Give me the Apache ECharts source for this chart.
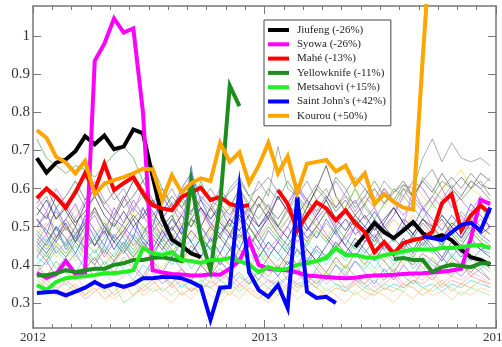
<!DOCTYPE html>
<html>
<head>
<meta charset="utf-8">
<script src="https://cdn.jsdelivr.net/npm/echarts@6.0.0/dist/echarts.min.js"></script>
<style>
  html, body { margin: 0; padding: 0; background: #fff; }
  #chart { width: 502px; height: 347px; }
</style>
</head>
<body>
<div id="chart"></div>
<script>
// half-monthly samples, 2012 - 2014
const t = Array.from({ length: 48 }, (_, i) => 2012 + (i + 0.4) / 24)
const yTicks = [0.3, 0.4, 0.5, 0.6, 0.7, 0.8, 0.9, 1]

const stations = ['Jiufeng (-26%)', 'Syowa (-26%)', 'Mahé (-13%)', 'Yellowknife (-11%)',
  'Metsahovi (+15%)', "Saint John's (+42%)", 'Kourou (+50%)']
const stationColors = ['#000000', '#ff00ff', '#ff0000', '#1e8c1e', '#22f022', '#0000ff', '#ffa500']

const jiufeng = [0.68, 0.642, 0.668, 0.676, 0.698, 0.737, 0.716, 0.739, 0.703, 0.71, 0.755, 0.745,
  0.632, 0.523, 0.466, 0.45, 0.43, 0.42, null, null, null, null, null, null, null, null, null, null,
  null, null, null, null, null, 0.447, 0.478, 0.51, 0.486, 0.47, 0.49, 0.512, 0.483, 0.47, 0.478,
  0.465, 0.44, 0.42, 0.413, 0.40]
const syowa = [0.378, 0.366, 0.376, 0.41, 0.376, 0.38, 0.935, 0.98, 1.046, 1.009, 1.02, 0.80,
  0.386, 0.38, 0.376, 0.375, 0.372, 0.372, 0.375, 0.374, 0.39, 0.41, 0.465, 0.40, 0.39, 0.388,
  0.385, 0.38, 0.372, 0.37, 0.368, 0.366, 0.365, 0.366, 0.37, 0.372, 0.373, 0.374, 0.376, 0.377,
  0.378, 0.38, 0.382, 0.385, 0.39, 0.47, 0.57, 0.56]
const mahe = [0.575, 0.60, 0.578, 0.55, 0.59, 0.64, 0.596, 0.665, 0.596, 0.614, 0.63, 0.588,
  0.556, 0.548, 0.543, 0.578, 0.59, 0.602, 0.57, 0.578, 0.56, 0.553, 0.556, null, null, 0.596,
  0.56, 0.49, 0.53, 0.564, 0.548, 0.517, 0.543, 0.51, 0.486, 0.433, 0.46, 0.43, 0.457, 0.465,
  0.47, 0.486, 0.562, 0.585, 0.49, 0.53, 0.556, 0.535]
const yellowknife = [0.373, 0.373, 0.378, 0.386, 0.381, 0.386, 0.39, 0.39, 0.40, 0.404, 0.413,
  0.413, 0.418, 0.42, 0.415, 0.41, 0.62, 0.47, 0.386, 0.56, 0.87, 0.816, null, null, null, null,
  null, null, null, null, null, null, null, null, null, null, null, 0.415, 0.418, 0.413, 0.413,
  0.381, 0.394, 0.40, 0.397, 0.394, 0.404, 0.404]
const metsahovi = [0.347, 0.334, 0.355, 0.365, 0.368, 0.37, 0.373, 0.378, 0.378, 0.381, 0.386,
  0.444, 0.43, 0.426, 0.433, 0.413, 0.41, 0.405, 0.413, 0.413, 0.418, 0.41, 0.40, 0.381, 0.394,
  0.386, 0.39, 0.40, 0.404, 0.41, 0.418, 0.444, 0.426, 0.426, 0.42, 0.418, 0.425, 0.43, 0.435,
  0.44, 0.44, 0.44, 0.444, 0.444, 0.447, 0.45, 0.452, 0.444]
const saintJohns = [0.326, 0.328, 0.33, 0.32, 0.33, 0.34, 0.355, 0.342, 0.35, 0.342, 0.35, 0.365,
  0.365, 0.368, 0.368, 0.365, 0.355, 0.342, 0.256, 0.34, 0.342, 0.60, 0.38, 0.334, 0.316, 0.347,
  0.287, 0.578, 0.33, 0.313, 0.316, 0.30, null, null, null, null, null, null, null, null, 0.475,
  0.47, 0.465, 0.485, 0.505, 0.51, 0.49, 0.55]
const kourou = [0.753, 0.733, 0.683, 0.668, 0.64, 0.672, 0.585, 0.613, 0.622, 0.63, 0.64, 0.652,
  0.65, 0.57, 0.635, 0.59, 0.614, 0.627, 0.62, 0.72, 0.67, 0.695, 0.614, 0.66, 0.72, 0.64, 0.685,
  0.59, 0.665, 0.67, 0.675, 0.645, 0.66, 0.61, 0.64, 0.56, 0.585, 0.565, 0.55, 0.545, 0.94, 1.31,
  null, null, null, null, null, null]
const stationValues = [jiufeng, syowa, mahe, yellowknife, metsahovi, saintJohns, kourou]

// the other stations, thin lines
const others = [
  [0.55,0.58,0.52,0.56,0.6,0.55,0.58,0.62,0.57,0.6,0.55,0.58,0.53,0.56,0.6,0.55,0.52,0.57,0.54,0.58,0.55,0.6,0.56,0.62,0.58,0.71,0.6,0.58,0.62,0.57,0.6,0.55,0.58,0.56,0.6,0.57,0.62,0.59,0.61,0.6,0.68,0.73,0.67,0.72,0.68,0.67,0.68,0.66],
  [0.73,0.68,0.66,0.64,0.66,0.65,0.63,0.66,0.69,0.71,0.68,0.62,0.66,0.6,0.56,0.58,0.62,0.6,0.57,0.55,0.6,0.63,0.58,0.55,0.6,0.57,0.62,0.58,0.55,0.6,0.57,0.63,0.6,0.55,0.58,0.62,0.58,0.56,0.6,0.58,0.55,0.58,0.62,0.6,0.57,0.6,0.62,0.58],
  [0.52,0.48,0.55,0.5,0.46,0.53,0.49,0.45,0.52,0.5,0.47,0.55,0.5,0.58,0.54,0.6,0.64,0.57,0.52,0.55,0.5,0.56,0.52,0.48,0.53,0.5,0.55,0.51,0.47,0.5,0.54,0.49,0.52,0.48,0.5,0.54,0.5,0.47,0.52,0.5,0.55,0.52,0.49,0.53,0.5,0.56,0.53,0.5],
  [0.5,0.54,0.47,0.52,0.56,0.5,0.53,0.48,0.55,0.51,0.57,0.53,0.49,0.52,0.56,0.5,0.54,0.58,0.55,0.6,0.56,0.52,0.55,0.5,0.53,0.58,0.54,0.6,0.56,0.52,0.55,0.5,0.54,0.57,0.52,0.55,0.5,0.53,0.58,0.62,0.6,0.56,0.6,0.55,0.58,0.62,0.6,0.57],
  [0.55,0.52,0.58,0.54,0.5,0.56,0.6,0.55,0.52,0.57,0.62,0.58,0.54,0.5,0.53,0.48,0.52,0.5,0.55,0.51,0.48,0.53,0.5,0.56,0.52,0.58,0.54,0.5,0.55,0.6,0.66,0.58,0.54,0.5,0.53,0.49,0.52,0.55,0.51,0.48,0.52,0.5,0.47,0.51,0.49,0.53,0.5,0.48],
  [0.42,0.4,0.44,0.41,0.38,0.42,0.4,0.37,0.41,0.39,0.36,0.4,0.38,0.35,0.37,0.34,0.36,0.35,0.38,0.36,0.34,0.37,0.35,0.38,0.36,0.34,0.37,0.35,0.36,0.34,0.37,0.35,0.33,0.36,0.34,0.36,0.335,0.35,0.34,0.36,0.34,0.35,0.33,0.35,0.34,0.36,0.35,0.34],
  [0.36,0.34,0.32,0.33,0.35,0.32,0.34,0.31,0.33,0.35,0.32,0.34,0.36,0.33,0.35,0.32,0.34,0.33,0.36,0.34,0.32,0.35,0.33,0.31,0.34,0.32,0.35,0.33,0.36,0.34,0.32,0.34,0.33,0.35,0.33,0.32,0.34,0.33,0.35,0.34,0.32,0.34,0.36,0.33,0.35,0.34,0.36,0.35],
  [0.38,0.36,0.34,0.35,0.33,0.34,0.36,0.33,0.35,0.3,0.32,0.35,0.33,0.34,0.32,0.35,0.33,0.36,0.34,0.32,0.35,0.33,0.35,0.36,0.34,0.36,0.33,0.35,0.34,0.36,0.33,0.35,0.34,0.32,0.34,0.33,0.35,0.34,0.33,0.36,0.34,0.33,0.35,0.34,0.32,0.34,0.33,0.32],
  [0.5,0.47,0.53,0.49,0.55,0.51,0.48,0.52,0.46,0.5,0.54,0.49,0.52,0.47,0.5,0.54,0.5,0.53,0.49,0.52,0.56,0.5,0.54,0.58,0.53,0.5,0.55,0.52,0.56,0.5,0.54,0.58,0.55,0.6,0.56,0.58,0.55,0.6,0.57,0.62,0.58,0.55,0.6,0.62,0.65,0.6,0.58,0.56],
  [0.45,0.48,0.43,0.46,0.5,0.44,0.47,0.42,0.46,0.49,0.45,0.48,0.52,0.47,0.5,0.46,0.52,0.55,0.5,0.47,0.52,0.49,0.45,0.48,0.44,0.47,0.5,0.46,0.49,0.52,0.48,0.45,0.47,0.5,0.46,0.48,0.44,0.47,0.5,0.6,0.55,0.5,0.47,0.5,0.53,0.49,0.52,0.5],
  [0.48,0.45,0.5,0.47,0.43,0.48,0.45,0.5,0.46,0.43,0.47,0.44,0.48,0.45,0.42,0.46,0.43,0.47,0.44,0.4,0.44,0.41,0.45,0.42,0.46,0.43,0.4,0.44,0.41,0.45,0.42,0.46,0.43,0.47,0.44,0.41,0.45,0.42,0.46,0.43,0.47,0.44,0.41,0.45,0.42,0.46,0.44,0.42],
  [0.4,0.43,0.39,0.42,0.45,0.41,0.44,0.4,0.43,0.46,0.42,0.45,0.41,0.44,0.4,0.43,0.39,0.42,0.45,0.41,0.38,0.42,0.39,0.43,0.4,0.37,0.41,0.38,0.42,0.39,0.43,0.4,0.38,0.41,0.39,0.42,0.38,0.4,0.43,0.39,0.42,0.4,0.38,0.41,0.39,0.42,0.4,0.38],
  [0.46,0.5,0.54,0.49,0.52,0.48,0.55,0.5,0.53,0.58,0.52,0.55,0.5,0.48,0.52,0.49,0.46,0.5,0.47,0.52,0.48,0.51,0.55,0.5,0.53,0.49,0.52,0.56,0.5,0.47,0.51,0.48,0.52,0.5,0.56,0.52,0.49,0.53,0.6,0.56,0.63,0.6,0.57,0.61,0.58,0.62,0.6,0.63],
  [0.44,0.41,0.45,0.42,0.46,0.43,0.4,0.44,0.41,0.45,0.42,0.46,0.43,0.47,0.44,0.41,0.45,0.42,0.39,0.43,0.4,0.44,0.41,0.38,0.42,0.39,0.43,0.4,0.44,0.41,0.38,0.42,0.39,0.43,0.4,0.44,0.41,0.38,0.42,0.4,0.43,0.41,0.39,0.42,0.4,0.38,0.41,0.39],
  [0.42,0.46,0.5,0.44,0.48,0.52,0.47,0.43,0.48,0.45,0.5,0.46,0.42,0.47,0.52,0.48,0.66,0.5,0.46,0.5,0.47,0.52,0.48,0.44,0.49,0.46,0.5,0.55,0.5,0.47,0.52,0.48,0.45,0.5,0.47,0.52,0.49,0.46,0.5,0.47,0.51,0.48,0.45,0.5,0.47,0.52,0.48,0.46],
  [0.38,0.41,0.37,0.4,0.43,0.39,0.42,0.38,0.41,0.44,0.4,0.37,0.41,0.38,0.42,0.39,0.36,0.4,0.37,0.41,0.38,0.42,0.39,0.36,0.4,0.37,0.41,0.38,0.35,0.39,0.36,0.4,0.37,0.41,0.38,0.35,0.39,0.36,0.4,0.37,0.41,0.38,0.42,0.39,0.37,0.4,0.38,0.36],
  [0.47,0.44,0.48,0.45,0.5,0.46,0.43,0.47,0.51,0.47,0.44,0.48,0.53,0.49,0.52,0.57,0.53,0.62,0.56,0.52,0.55,0.6,0.55,0.52,0.56,0.5,0.54,0.58,0.53,0.5,0.54,0.51,0.55,0.6,0.55,0.52,0.56,0.6,0.58,0.55,0.52,0.56,0.53,0.5,0.54,0.51,0.55,0.52],
  [0.37,0.35,0.33,0.36,0.34,0.31,0.33,0.35,0.32,0.34,0.36,0.33,0.35,0.37,0.34,0.36,0.33,0.35,0.34,0.36,0.38,0.35,0.37,0.34,0.36,0.35,0.37,0.34,0.36,0.38,0.35,0.37,0.34,0.36,0.35,0.33,0.35,0.37,0.34,0.36,0.35,0.37,0.34,0.36,0.35,0.37,0.36,0.34],
  [0.52,0.49,0.46,0.5,0.47,0.51,0.55,0.5,0.46,0.49,0.53,0.5,0.47,0.44,0.48,0.45,0.49,0.46,0.5,0.47,0.44,0.48,0.45,0.49,0.52,0.48,0.45,0.49,0.46,0.5,0.47,0.44,0.48,0.52,0.49,0.46,0.5,0.47,0.44,0.48,0.45,0.49,0.52,0.48,0.45,0.49,0.46,0.44],
  [0.44,0.47,0.43,0.46,0.42,0.45,0.48,0.44,0.47,0.43,0.46,0.5,0.45,0.42,0.46,0.43,0.47,0.44,0.41,0.45,0.42,0.46,0.43,0.4,0.44,0.41,0.45,0.42,0.46,0.43,0.4,0.44,0.41,0.45,0.42,0.39,0.43,0.4,0.44,0.41,0.38,0.42,0.39,0.43,0.4,0.42,0.39,0.41],
  [0.48,0.51,0.47,0.5,0.46,0.49,0.45,0.48,0.52,0.48,0.45,0.49,0.46,0.5,0.47,0.51,0.48,0.45,0.49,0.53,0.49,0.46,0.5,0.47,0.51,0.48,0.52,0.49,0.46,0.5,0.47,0.51,0.55,0.5,0.47,0.51,0.48,0.52,0.49,0.53,0.5,0.47,0.51,0.48,0.52,0.49,0.46,0.5],
  [0.5,0.53,0.49,0.52,0.48,0.51,0.54,0.5,0.47,0.51,0.55,0.52,0.56,0.6,0.55,0.58,0.54,0.57,0.6,0.56,0.59,0.62,0.58,0.6,0.63,0.59,0.56,0.6,0.57,0.61,0.58,0.55,0.59,0.63,0.6,0.56,0.6,0.57,0.61,0.58,0.62,0.65,0.6,0.63,0.6,0.64,0.61,0.6],
  [0.46,0.43,0.47,0.51,0.46,0.5,0.45,0.49,0.44,0.48,0.52,0.47,0.44,0.49,0.45,0.5,0.46,0.42,0.47,0.43,0.48,0.44,0.5,0.46,0.42,0.46,0.43,0.48,0.44,0.41,0.45,0.49,0.45,0.42,0.46,0.5,0.46,0.43,0.47,0.44,0.48,0.45,0.42,0.46,0.43,0.47,0.44,0.45],
  [0.4,0.37,0.41,0.38,0.36,0.4,0.37,0.41,0.38,0.42,0.39,0.36,0.4,0.37,0.35,0.39,0.36,0.4,0.37,0.39,0.36,0.38,0.35,0.39,0.37,0.4,0.36,0.39,0.37,0.35,0.38,0.36,0.4,0.37,0.35,0.38,0.36,0.39,0.37,0.35,0.38,0.36,0.39,0.37,0.4,0.37,0.39,0.36],
  [0.58,0.54,0.6,0.56,0.52,0.57,0.62,0.57,0.53,0.58,0.54,0.6,0.56,0.52,0.56,0.53,0.58,0.54,0.5,0.55,0.52,0.57,0.53,0.58,0.54,0.6,0.56,0.61,0.57,0.53,0.57,0.62,0.58,0.54,0.58,0.55,0.6,0.56,0.53,0.57,0.54,0.58,0.55,0.6,0.57,0.54,0.58,0.55],
  [0.43,0.46,0.42,0.45,0.41,0.44,0.47,0.43,0.4,0.44,0.41,0.45,0.42,0.39,0.43,0.4,0.44,0.41,0.38,0.42,0.4,0.43,0.4,0.44,0.41,0.38,0.42,0.39,0.43,0.4,0.37,0.41,0.39,0.43,0.4,0.38,0.41,0.44,0.4,0.43,0.39,0.42,0.38,0.41,0.39,0.43,0.4,0.42],
  [0.53,0.57,0.52,0.55,0.51,0.54,0.58,0.53,0.5,0.54,0.5,0.53,0.57,0.52,0.49,0.53,0.5,0.55,0.51,0.48,0.52,0.49,0.53,0.5,0.54,0.5,0.47,0.52,0.49,0.53,0.57,0.52,0.49,0.53,0.5,0.47,0.51,0.55,0.51,0.48,0.52,0.49,0.53,0.5,0.47,0.51,0.48,0.5],
  [0.34,0.36,0.33,0.31,0.34,0.32,0.35,0.33,0.31,0.33,0.35,0.32,0.34,0.32,0.3,0.33,0.31,0.34,0.32,0.3,0.33,0.31,0.34,0.32,0.3,0.32,0.34,0.31,0.33,0.31,0.34,0.32,0.3,0.33,0.31,0.33,0.32,0.3,0.33,0.31,0.34,0.32,0.33,0.31,0.33,0.32,0.34,0.33],
  [0.49,0.46,0.5,0.45,0.48,0.44,0.47,0.51,0.47,0.44,0.48,0.45,0.49,0.46,0.5,0.46,0.43,0.47,0.44,0.48,0.45,0.41,0.45,0.42,0.46,0.43,0.47,0.44,0.4,0.44,0.41,0.45,0.42,0.46,0.43,0.47,0.44,0.41,0.45,0.42,0.46,0.43,0.46,0.42,0.45,0.41,0.44,0.43],
  [0.56,0.6,0.55,0.58,0.62,0.57,0.6,0.56,0.59,0.55,0.58,0.62,0.57,0.54,0.58,0.55,0.59,0.55,0.52,0.56,0.53,0.57,0.54,0.58,0.55,0.52,0.56,0.53,0.57,0.54,0.58,0.54,0.57,0.53,0.56,0.6,0.56,0.59,0.62,0.58,0.62,0.59,0.64,0.6,0.63,0.6,0.64,0.62],
  [0.39,0.36,0.38,0.35,0.37,0.34,0.36,0.38,0.35,0.37,0.39,0.36,0.38,0.35,0.37,0.39,0.36,0.38,0.35,0.37,0.36,0.34,0.36,0.38,0.35,0.37,0.34,0.36,0.38,0.35,0.37,0.36,0.38,0.35,0.37,0.34,0.36,0.38,0.35,0.37,0.36,0.38,0.35,0.37,0.36,0.38,0.37,0.35],
  [0.45,0.42,0.46,0.43,0.47,0.44,0.41,0.45,0.42,0.46,0.43,0.47,0.5,0.46,0.43,0.47,0.52,0.48,0.44,0.48,0.51,0.47,0.5,0.46,0.5,0.47,0.44,0.48,0.45,0.49,0.46,0.5,0.47,0.44,0.48,0.45,0.49,0.46,0.5,0.47,0.44,0.48,0.45,0.49,0.46,0.5,0.47,0.45]
]
const otherColors = ['#808080', '#3a9a3a', '#3030ff', '#9a40e0', '#202020', '#40c8e8', '#ffa040',
  '#80e880', '#e8e040', '#e040e0', '#303090', '#40d0c0', '#909090', '#a05030', '#5050ff', '#8a5ad0',
  '#50b050', '#ff9090', '#404040', '#60e0f0', '#f0b060', '#707070', '#2020a0', '#90a040', '#b060e0',
  '#c0e040', '#101060', '#ffc080', '#30a0a0', '#505050', '#ffa0d0', '#30c030']

const serif = 'Liberation Serif'
const frame = { show: true, onZero: false, lineStyle: { color: '#777', width: 1.5 } }

const chart = echarts.init(document.getElementById('chart'))

const series = []
others.forEach((vals, k) => {
  series.push({
    type: 'line',
    data: t.map((x, i) => [x, vals[i]]),
    symbol: 'none',
    silent: true,
    lineStyle: { width: 0.8, color: otherColors[k], opacity: 0.8 }
  })
})
stationValues.forEach((vals, k) => {
  series.push({
    name: stations[k],
    type: 'line',
    data: t.map((x, i) => [x, vals[i]]),
    symbol: 'none',
    color: stationColors[k],
    lineStyle: { width: 4, color: stationColors[k], join: 'miter' }
  })
})

const xBase = {
  type: 'value', min: 2012, max: 2014, interval: 1,
  axisLine: frame,
  axisTick: { inside: true, length: 8, lineStyle: { color: '#777' } },
  minorTick: { show: true, splitNumber: 12, length: 4, lineStyle: { color: '#777' } },
  splitLine: { show: false }, minorSplitLine: { show: false }
}
const yBase = {
  type: 'value', min: 0.2344, max: 1.0787,
  axisLine: frame,
  axisTick: { inside: true, length: 8, customValues: yTicks, lineStyle: { color: '#777' } },
  splitLine: { show: false }
}

chart.setOption({
  animation: false,
  backgroundColor: '#fff',
  grid: { left: 33, right: 6, top: 6, bottom: 19, outerBoundsMode: 'none' },
  legend: {
    data: stations,
    orient: 'vertical',
    left: 264, top: 20,
    padding: [3, 5, 3, 4],
    itemGap: 0.3,
    icon: 'rect',
    itemWidth: 21, itemHeight: 4,
    backgroundColor: '#fff',
    borderColor: '#444', borderWidth: 1,
    textStyle: { fontFamily: serif, fontSize: 11, color: '#222', lineHeight: 14, padding: [0, 0, 0, 3] }
  },
  xAxis: [
    Object.assign({}, xBase, {
      position: 'bottom',
      axisLabel: { fontFamily: serif, fontSize: 13, color: '#333', margin: 3,
        alignMinLabel: 'center', alignMaxLabel: 'center', formatter: v => String(v) }
    }),
    Object.assign({}, xBase, { position: 'top', axisLabel: { show: false } })
  ],
  yAxis: [
    Object.assign({}, yBase, {
      position: 'left',
      axisLabel: { fontFamily: serif, fontSize: 15, color: '#333', margin: 3,
        customValues: yTicks, formatter: v => String(Math.round(v * 10) / 10) }
    }),
    Object.assign({}, yBase, { position: 'right', axisLabel: { show: false } })
  ],
  series: series
})
</script>
</body>
</html>
